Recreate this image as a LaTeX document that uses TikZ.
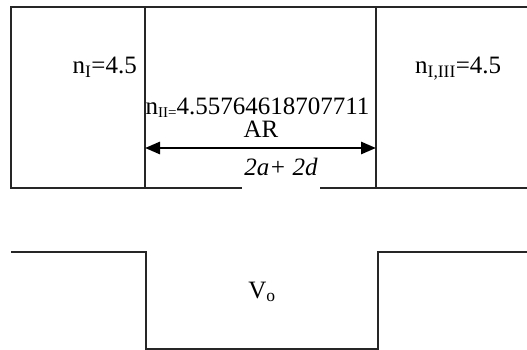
\documentclass[tikz,border=0pt]{standalone}
\usepackage{fontspec}
\setmainfont{Liberation Serif}
\usetikzlibrary{arrows.meta}
\begin{document}
\begin{tikzpicture}[x=1pt,y=-1pt,
  wall/.style={line width=1.1pt,black!85},
  lbl/.style={inner sep=0pt,font=\fontsize{25}{30}\selectfont},
  dim/.style={line width=2.8pt,{Triangle[length=15pt,width=12pt]}-{Triangle[length=15pt,width=12pt]}}]
\useasboundingbox (0,0) rectangle (527,350);
% top regions
\draw[wall] (527,7) -- (11,7) -- (11,188) -- (527,188);
\draw[wall] (145,7) -- (145,188);
\draw[wall] (376,7) -- (376,188);
\coordinate (al) at (145,148);
\coordinate (ar) at (376,148);
\node[lbl,anchor=base east] (n1) at (137,74) {n\textsubscript{I}=4.5};
\node[lbl,anchor=base west] (n3) at (415,74) {n\textsubscript{I,III}=4.5};
\node[lbl,anchor=base west] (n2) at (145.5,114) {n\raisebox{-0.15em}{\fontsize{15}{18}\selectfont II=}4.55764618707711};
\node[lbl,anchor=base] (ar1) at (261,137) {AR};
\draw[dim] (al) -- (ar);
\node[lbl,anchor=base,fill=white,inner xsep=2pt,text depth=15pt] (w) at (281,175) {\itshape 2a+ 2d};
% potential well
\draw[wall] (11,252) -- (146,252) -- (146,349) -- (378,349) -- (378,252) -- (527,252);
\node[lbl,anchor=base] (v) at (262,298) {V\textsubscript{o}};
\end{tikzpicture}
\end{document}
